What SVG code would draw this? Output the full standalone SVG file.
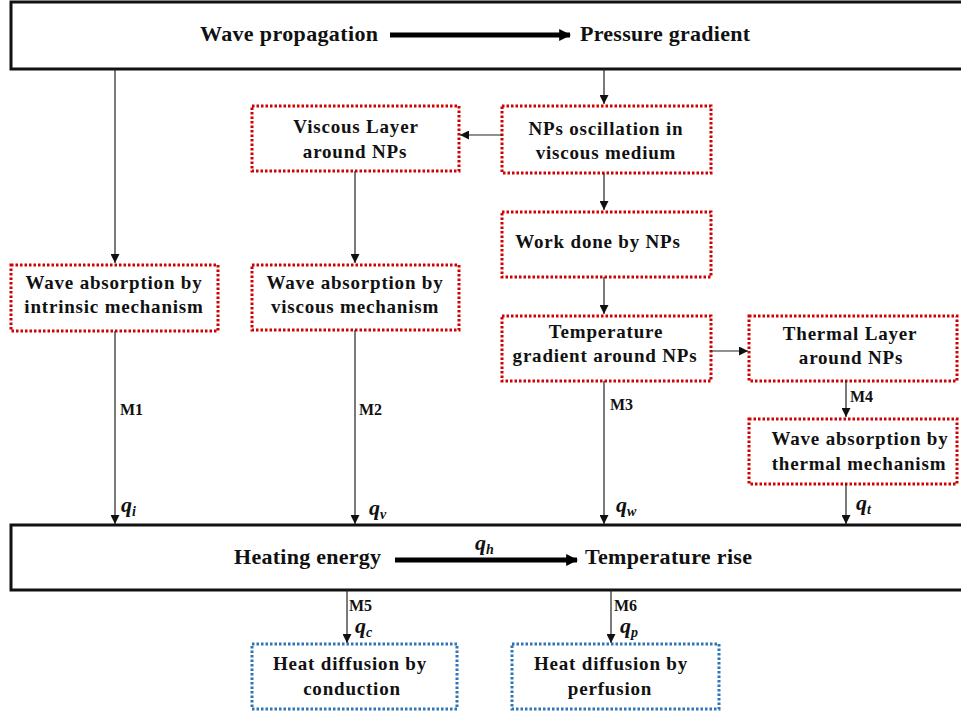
<svg xmlns="http://www.w3.org/2000/svg" width="961" height="711" viewBox="0 0 961 711">
<defs>
<marker id="ah" viewBox="0 0 10 10" refX="10" refY="5" markerWidth="9" markerHeight="9" markerUnits="userSpaceOnUse" orient="auto">
<path d="M0,0 L10,5 L0,10 z" fill="#111"/>
</marker>
<marker id="bh" viewBox="0 0 10 10" refX="9" refY="5" markerWidth="2.4" markerHeight="2.4" orient="auto">
<path d="M0,0 L10,5 L0,10 z" fill="#000"/>
</marker>
</defs>
<style>
.big{fill:#fff;stroke:#111;stroke-width:3}
.red{fill:#fff;stroke:#d00000;stroke-width:3;stroke-dasharray:2.5 2}
.blue{fill:#fff;stroke:#2e75b6;stroke-width:3;stroke-dasharray:2.5 2}
.t{font-family:"Liberation Serif","Times New Roman",serif;font-weight:bold;font-size:19px;letter-spacing:0.8px;fill:#111;text-anchor:middle}
.h{font-family:"Liberation Serif","Times New Roman",serif;font-weight:bold;font-size:22px;fill:#111}
.m{font-family:"Liberation Serif","Times New Roman",serif;font-weight:bold;font-size:16px;fill:#111}
.q{font-family:"Liberation Serif","Times New Roman",serif;font-weight:bold;font-style:italic;font-size:22px;fill:#111}
.s{font-size:14px}
.c{stroke:#222;stroke-width:1.2;fill:none;marker-end:url(#ah)}
.k{stroke:#000;stroke-width:5;fill:none;marker-end:url(#bh)}
</style>
<g id="top">
<rect class="big" x="11" y="2" width="955" height="67"/>
<text class="h" x="200" y="41" textLength="178">Wave propagation</text>
<text class="h" x="580" y="41" textLength="170">Pressure gradient</text>
<line class="k" x1="390" y1="35" x2="570" y2="35"/>
</g>
<g id="bottom">
<rect class="big" x="11" y="525" width="955" height="65"/>
<text class="h" x="234" y="564" textLength="147">Heating energy</text>
<text class="h" x="585" y="564" textLength="167">Temperature rise</text>
<line class="k" x1="395" y1="560" x2="577" y2="560"/>
<text class="q" x="475" y="550">q<tspan class="s" dy="4">h</tspan></text>
</g>
<g id="viscousLayer">
<rect class="red" x="252" y="106" width="207" height="65"/>
<text class="t" x="356" y="133">Viscous Layer</text>
<text class="t" x="355" y="158">around NPs</text>
</g>
<g id="npsOsc">
<rect class="red" x="502" y="106" width="209" height="67"/>
<text class="t" x="606" y="135">NPs oscillation in</text>
<text class="t" x="606" y="159">viscous medium</text>
</g>
<g id="workDone">
<rect class="red" x="502" y="212" width="209" height="65"/>
<text class="t" x="598" y="248">Work done by NPs</text>
</g>
<g id="tempGrad">
<rect class="red" x="502" y="316" width="209" height="65"/>
<text class="t" x="606" y="338">Temperature</text>
<text class="t" x="605" y="362">gradient around NPs</text>
</g>
<g id="thermalLayer">
<rect class="red" x="749" y="316" width="208" height="65"/>
<text class="t" x="850" y="340">Thermal Layer</text>
<text class="t" x="851" y="364">around NPs</text>
</g>
<g id="absThermal">
<rect class="red" x="749" y="419" width="208" height="65"/>
<text class="t" x="860" y="445">Wave absorption by</text>
<text class="t" x="859" y="470">thermal mechanism</text>
</g>
<g id="absIntrinsic">
<rect class="red" x="11" y="265" width="207" height="66"/>
<text class="t" x="114" y="289">Wave absorption by</text>
<text class="t" x="114" y="313">intrinsic mechanism</text>
</g>
<g id="absViscous">
<rect class="red" x="252" y="265" width="207" height="65"/>
<text class="t" x="355" y="289">Wave absorption by</text>
<text class="t" x="355" y="313">viscous mechanism</text>
</g>
<g id="conduction">
<rect class="blue" x="252" y="644" width="205" height="65"/>
<text class="t" x="350" y="670">Heat diffusion by</text>
<text class="t" x="352" y="695">conduction</text>
</g>
<g id="perfusion">
<rect class="blue" x="512" y="644" width="207" height="65"/>
<text class="t" x="611" y="670">Heat diffusion by</text>
<text class="t" x="610" y="695">perfusion</text>
</g>
<g id="connectors">
<line class="c" x1="115" y1="69" x2="115" y2="263"/>
<line class="c" x1="604" y1="69" x2="604" y2="104"/>
<line class="c" x1="502" y1="135" x2="460" y2="135"/>
<line class="c" x1="355" y1="171" x2="355" y2="263"/>
<line class="c" x1="604" y1="173" x2="604" y2="210"/>
<line class="c" x1="604" y1="277" x2="604" y2="314"/>
<line class="c" x1="711" y1="351" x2="748" y2="351"/>
<line class="c" x1="846" y1="381" x2="846" y2="417"/>
<line class="c" x1="115" y1="331" x2="115" y2="524"/>
<line class="c" x1="355" y1="330" x2="355" y2="524"/>
<line class="c" x1="604" y1="381" x2="604" y2="524"/>
<line class="c" x1="846" y1="484" x2="846" y2="524"/>
<line class="c" x1="347" y1="590" x2="347" y2="643"/>
<line class="c" x1="611" y1="590" x2="611" y2="643"/>
<text class="m" x="120" y="415">M1</text>
<text class="m" x="359" y="415">M2</text>
<text class="m" x="610" y="410">M3</text>
<text class="m" x="850" y="402">M4</text>
<text class="m" x="349" y="611">M5</text>
<text class="m" x="614" y="611">M6</text>
<text class="q" x="121" y="512">q<tspan class="s" dy="4">i</tspan></text>
<text class="q" x="369" y="515">q<tspan class="s" dy="4">v</tspan></text>
<text class="q" x="616" y="512">q<tspan class="s" dy="4">w</tspan></text>
<text class="q" x="856" y="510">q<tspan class="s" dy="4">t</tspan></text>
<text class="q" x="355" y="633">q<tspan class="s" dy="4">c</tspan></text>
<text class="q" x="620" y="633">q<tspan class="s" dy="4">p</tspan></text>
</g>
</svg>
